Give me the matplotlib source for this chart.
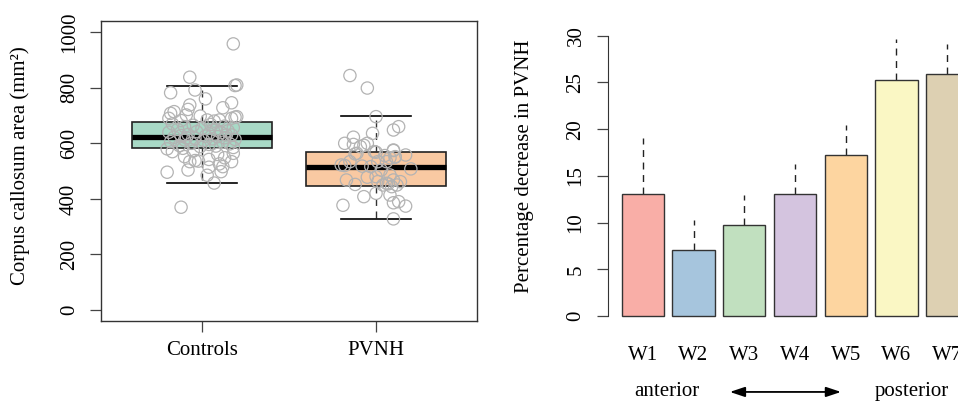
import numpy as np
import matplotlib
matplotlib.use("Agg")
import matplotlib.pyplot as plt

plt.rcParams['font.family'] = ['Liberation Serif', 'DejaVu Serif']
plt.rcParams['font.size'] = 15

# ---- left panel: corpus callosum area ----
groups = ["Controls", "PVNH"]
box_whislo = [456, 328]
box_q1 = [583, 448]
box_med = [624, 515]
box_q3 = [677, 570]
box_whishi = [808, 697]
box_colors = ["#a8d9c6", "#f9c9a2"]

controls_vals = [958, 838, 808, 810, 792, 782, 760, 746, 738, 728, 722, 714, 708, 702,
                 698, 696, 694, 690, 684, 684, 690, 680, 682,
                 670, 668, 665, 662, 660, 656, 654, 650, 648, 645, 642, 640, 638, 635,
                 632, 630, 628, 626, 624, 622, 620, 618, 616, 614, 612, 610, 606, 604,
                 600, 598, 596, 592, 590, 588, 585, 630, 620,
                 580, 570, 582, 552, 534, 538, 536, 542, 548, 564, 534, 526, 516, 514,
                 504, 496, 485, 498, 457, 370, 560, 572]
controls_jit = [0.18, -0.07, 0.19, 0.20, -0.04, -0.18, 0.02, 0.17, -0.07, 0.12, -0.08, -0.16, -0.18, -0.09,
                -0.01, 0.20, 0.19, 0.17, 0.03, 0.10, -0.19, 0.07, -0.12,
                -0.17, 0.05, -0.05, 0.13, -0.10, 0.18, 0.00, -0.14, 0.08, 0.15, -0.03, -0.19, 0.11, 0.04,
                -0.08, 0.17, -0.12, 0.02, 0.09, -0.16, 0.13, -0.04, 0.06, 0.19, -0.10, 0.01, -0.18, 0.12,
                -0.06, 0.16, 0.04, -0.13, 0.08, -0.01, 0.18, 0.14, -0.09,
                -0.20, -0.17, -0.11, -0.10, -0.07, -0.04, -0.02, 0.04, 0.13, 0.18, 0.17, 0.10, 0.12, 0.04,
                -0.08, -0.20, 0.03, 0.11, 0.07, -0.12, 0.09, -0.05]

pvnh_vals = [844, 799, 696, 660, 648, 636, 622, 600, 600, 596, 593, 588, 574, 570, 568,
             564, 562, 558, 556, 552, 550, 534, 534, 534, 522, 520, 518, 516, 508, 504,
             486, 480, 478, 468, 468, 462, 462, 456, 454, 452, 450, 450, 444, 420, 414,
             408, 390, 386, 377, 374, 328, 576, 548]
pvnh_jit = [-0.15, -0.05, 0.00, 0.13, 0.10, -0.02, -0.13, -0.18, -0.05, -0.13, -0.07, -0.09, 0.10, -0.01, 0.00,
            -0.11, -0.12, 0.17, 0.05, 0.11, 0.11, 0.06, 0.01, -0.15, -0.20, -0.18, -0.08, -0.03, 0.20, 0.03,
            0.08, 0.00, -0.05, -0.17, 0.10, 0.01, 0.14, 0.06, 0.07, -0.12, 0.04, 0.12, 0.09, 0.00, 0.08,
            -0.07, 0.13, 0.10, -0.19, 0.17, 0.10, 0.10, 0.08]

# ---- right panel: percentage decrease per segment ----
segments = ["W1", "W2", "W3", "W4", "W5", "W6", "W7"]
pct_decrease = [13.1, 7.1, 9.7, 13.1, 17.2, 25.3, 25.9]
pct_upper = [19.0, 10.3, 12.9, 16.3, 20.4, 29.7, 29.1]
bar_colors = ["#f9aea7", "#a6c5dd", "#c1e0bf", "#d4c4df", "#fdd5a0", "#faf7c4", "#ddd0b2"]

fig = plt.figure(figsize=(9.58, 4.03), dpi=100)

# left axes
ax1 = fig.add_axes([101 / 958, (403 - 321.1) / 403, 376 / 958, 300 / 403])
stats = []
for i, g in enumerate(groups):
    stats.append(dict(label=g, whislo=box_whislo[i], q1=box_q1[i], med=box_med[i],
                      q3=box_q3[i], whishi=box_whishi[i]))
bp = ax1.bxp(stats, positions=[1, 2], widths=0.8, capwidths=0.4, patch_artist=True,
             showfliers=False,
             boxprops=dict(linewidth=1.2, edgecolor='#222222'),
             medianprops=dict(color='black', linewidth=3.8),
             whiskerprops=dict(color='#333333', linestyle=(0, (5, 4)), linewidth=1.0),
             capprops=dict(color='black', linewidth=1.2))
for patch, c in zip(bp['boxes'], box_colors):
    patch.set_facecolor(c)

ax1.scatter(1 + np.array(controls_jit), controls_vals, s=78, facecolors='none',
            edgecolors='#b3b3b3', linewidths=0.9, zorder=5)
ax1.scatter(2 + np.array(pvnh_jit), pvnh_vals, s=78, facecolors='none',
            edgecolors='#b3b3b3', linewidths=0.9, zorder=5)

ax1.set_xlim(0.42, 2.58)
ax1.set_ylim(-40, 1040)
ax1.set_yticks([0, 200, 400, 600, 800, 1000])
ax1.set_xticks([1, 2], groups)
ax1.tick_params(direction='out', length=8, width=0.9, color='#444444')
ax1.tick_params(axis='x', pad=6)
ax1.tick_params(axis='y', pad=8)
for lab in ax1.get_yticklabels():
    lab.set_rotation(90)
    lab.set_va('center')
for sp in ax1.spines.values():
    sp.set_linewidth(1.0)
    sp.set_color('#333333')

fig.text(20 / 958, 1 - 166 / 403, "Corpus callosum area (mm²)", rotation=90,
         ha='center', va='center')

# right axes
ax2 = fig.add_axes([607.8 / 958, (403 - 327.2) / 403, 374.3 / 958, 302.7 / 403])
centers = 0.7 + 1.2 * np.arange(len(segments))
ax2.bar(centers, pct_decrease, width=1.0, color=bar_colors, edgecolor='#333333',
        linewidth=1.0, zorder=2)
ax2.vlines(centers, pct_decrease, pct_upper, colors='#222222',
           linestyles=(0, (5, 4)), linewidth=1.0, zorder=1)
ax2.set_xlim(-0.128, 8.728)
ax2.set_ylim(-1.2, 31.2)
ax2.set_yticks([0, 5, 10, 15, 20, 25, 30])
ax2.set_xticks([])
for s in ['top', 'right', 'bottom']:
    ax2.spines[s].set_visible(False)
ax2.spines['left'].set_bounds(0, 30)
ax2.spines['left'].set_color('#333333')
ax2.tick_params(axis='y', direction='out', length=8, width=0.9, color='#444444', pad=8)
for lab in ax2.get_yticklabels():
    lab.set_rotation(90)
    lab.set_va('center')

for x, s in zip(centers, segments):
    ax2.text(x, -4.28, s, ha='center', va='center', clip_on=False)

ax2.text(1.27, -8.13, "anterior", ha='center', va='center', clip_on=False)
ax2.text(7.07, -8.13, "posterior", ha='center', va='center', clip_on=False)
ax2.annotate('', xy=(5.39, -8.13), xytext=(2.76, -8.13),
             arrowprops=dict(arrowstyle='<|-|>,head_length=0.6,head_width=0.2',
                             color='black', lw=1.3, shrinkA=0, shrinkB=0),
             annotation_clip=False)

fig.text(524 / 958, 1 - 166 / 403, "Percentage decrease in PVNH", rotation=90,
         ha='center', va='center')

fig.savefig("out.png", dpi=100)
